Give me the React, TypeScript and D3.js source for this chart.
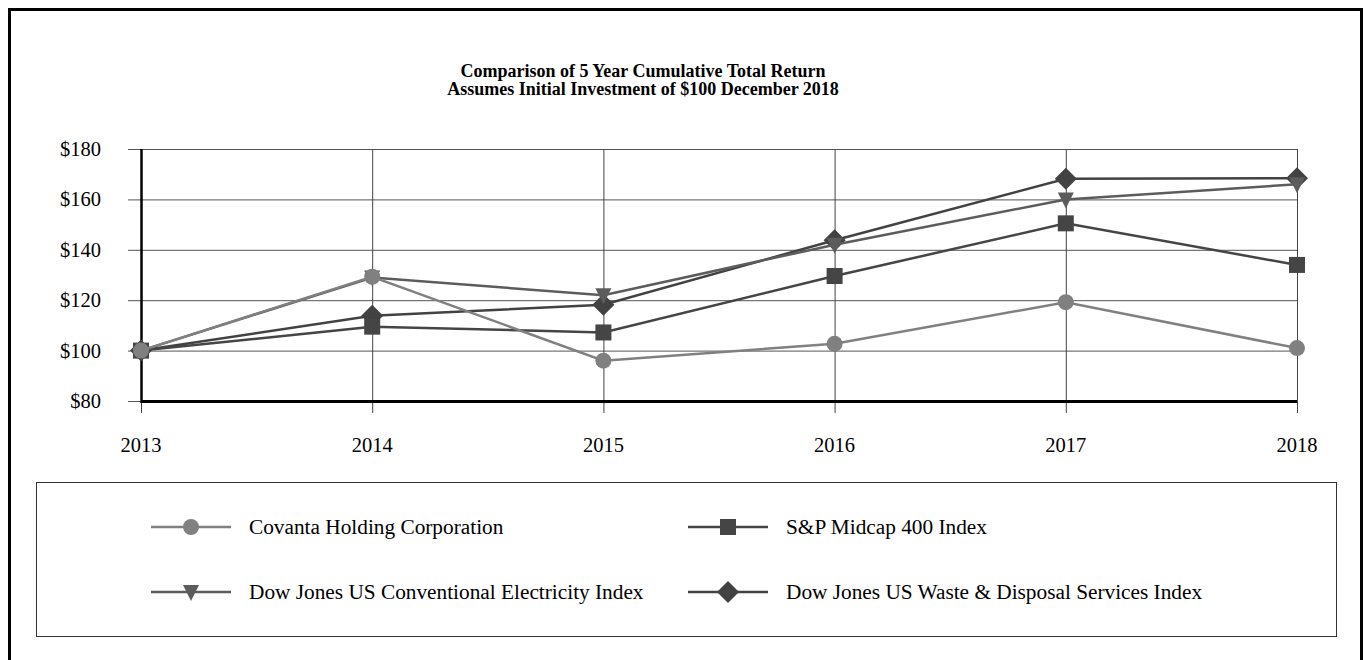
import React from "react";
import * as d3 from "d3";

const years = ["2013", "2014", "2015", "2016", "2017", "2018"];
const covanta = [100, 129.3, 96, 102.7, 119.2, 101];
const spMidcap = [100, 109.5, 107.2, 129.6, 150.5, 134];
const djElectricity = [100, 129, 122, 142, 160, 166];
const djWaste = [100, 113.8, 118.2, 143.8, 168.2, 168.4];
const yTicks = [80, 100, 120, 140, 160, 180];
const titleLines = [
  "Comparison of 5 Year Cumulative Total Return",
  "Assumes Initial Investment of $100 December 2018",
];

type Shape = "circle" | "square" | "triangle" | "diamond";
const seriesList: { name: string; values: number[]; color: string; shape: Shape }[] = [
  { name: "Covanta Holding Corporation", values: covanta, color: "#808080", shape: "circle" },
  { name: "S&P Midcap 400 Index", values: spMidcap, color: "#454545", shape: "square" },
  { name: "Dow Jones US Conventional Electricity Index", values: djElectricity, color: "#5c5c5c", shape: "triangle" },
  { name: "Dow Jones US Waste & Disposal Services Index", values: djWaste, color: "#424242", shape: "diamond" },
];

const W = 1368;
const H = 660;
const FONT = "'Liberation Serif', 'Times New Roman', serif";

function Marker({ shape, x, y, color }: { shape: Shape; x: number; y: number; color: string }) {
  if (shape === "circle") return <circle cx={x} cy={y} r={8} fill={color} />;
  if (shape === "square") return <rect x={x - 8} y={y - 8} width={16} height={16} fill={color} />;
  if (shape === "triangle")
    return <path d={`M${x - 8},${y - 7} L${x + 8},${y - 7} L${x},${y + 9} Z`} fill={color} />;
  return <path d={`M${x},${y - 11} L${x + 11},${y} L${x},${y + 11} L${x - 11},${y} Z`} fill={color} />;
}

export default function App() {
  const x = d3.scalePoint<string>().domain(years).range([141, 1297]);
  const y = d3.scaleLinear().domain([80, 180]).range([401, 149]);
  const line = d3
    .line<number>()
    .x((_, i) => x(years[i]) as number)
    .y((d) => y(d));

  const drawOrder = [...seriesList].reverse();

  const legendPos = [
    { lx: 151, ly: 527 },
    { lx: 688, ly: 527 },
    { lx: 151, ly: 592 },
    { lx: 688, ly: 592 },
  ];

  return (
    <svg
      width={W}
      height={H}
      style={{ position: "absolute", left: 0, top: 0, background: "#fff" }}
      fontFamily={FONT}
    >
      <rect x={9.5} y={9.5} width={1352} height={680} fill="#fff" stroke="#000" strokeWidth={3} />

      {titleLines.map((t, i) => (
        <text
          key={i}
          x={643}
          y={77 + i * 18}
          textAnchor="middle"
          fontSize={18}
          fontWeight="bold"
          fill="#000"
        >
          {t}
        </text>
      ))}

      {/* horizontal grid + y ticks */}
      {yTicks.map((t) => (
        <g key={t}>
          <line x1={128} x2={1297} y1={y(t) + 0.5} y2={y(t) + 0.5} stroke="#555" strokeWidth={1} />
          <text x={101} y={y(t) + 7} textAnchor="end" fontSize={20.5} fill="#000">
            {"$" + t}
          </text>
        </g>
      ))}

      {/* vertical grid + x ticks */}
      {years.map((yr) => (
        <g key={yr}>
          <line
            x1={(x(yr) as number) + 0.5}
            x2={(x(yr) as number) + 0.5}
            y1={149}
            y2={413}
            stroke="#444"
            strokeWidth={1}
          />
          <text x={x(yr) as number} y={452} textAnchor="middle" fontSize={20.5} fill="#000">
            {yr}
          </text>
        </g>
      ))}

      {/* axes */}
      <line x1={141.5} x2={141.5} y1={149} y2={403} stroke="#000" strokeWidth={2.5} />
      <line x1={141} x2={1297} y1={401.5} y2={401.5} stroke="#000" strokeWidth={3} />

      {/* series lines and markers */}
      {drawOrder.map((s) => (
        <g key={s.name}>
          <path d={line(s.values) || ""} fill="none" stroke={s.color} strokeWidth={2.5} />
          {s.values.map((v, i) => (
            <Marker key={i} shape={s.shape} x={x(years[i]) as number} y={y(v)} color={s.color} />
          ))}
        </g>
      ))}

      {/* legend */}
      <rect x={36.5} y={482.5} width={1300} height={154} fill="none" stroke="#333" strokeWidth={1} />
      {seriesList.map((s, i) => {
        const p = legendPos[i];
        return (
          <g key={s.name}>
            <line x1={p.lx} x2={p.lx + 80} y1={p.ly} y2={p.ly} stroke={s.color} strokeWidth={2.5} />
            <Marker shape={s.shape} x={p.lx + 40} y={p.ly} color={s.color} />
            <text x={p.lx + 98} y={p.ly + 7} fontSize={21.3} fill="#000">
              {s.name}
            </text>
          </g>
        );
      })}
    </svg>
  );
}
